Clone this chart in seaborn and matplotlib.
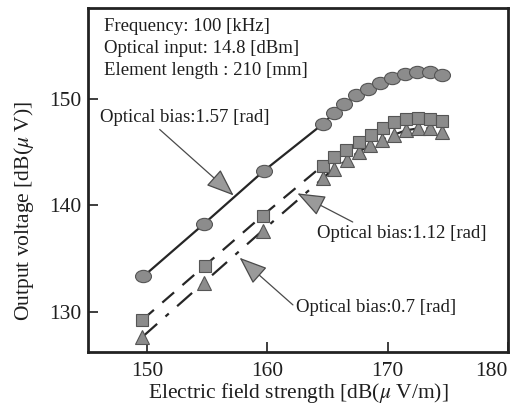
import numpy as np
import pandas as pd
import matplotlib
matplotlib.use("Agg")
import matplotlib.pyplot as plt
from matplotlib.path import Path
from matplotlib.transforms import Affine2D
import seaborn as sns

# ---- data ----
x_157 = [149.7, 154.7, 159.7, 164.6, 165.5, 166.4, 167.4, 168.4, 169.4, 170.4, 171.4, 172.4, 173.5, 174.5]
y_157 = [133.3, 138.2, 143.2, 147.6, 148.6, 149.5, 150.3, 150.9, 151.5, 151.9, 152.3, 152.5, 152.5, 152.2]

x_112 = [149.6, 154.8, 159.6, 164.6, 165.5, 166.5, 167.6, 168.6, 169.6, 170.5, 171.5, 172.5, 173.5, 174.5]
y_112 = [129.2, 134.3, 139.0, 143.7, 144.5, 145.2, 145.9, 146.6, 147.2, 147.8, 148.1, 148.2, 148.1, 147.9]

x_07 = [149.6, 154.7, 159.6, 164.6, 165.5, 166.6, 167.6, 168.5, 169.5, 170.5, 171.5, 172.5, 173.5, 174.5]
y_07 = [127.6, 132.7, 137.6, 142.5, 143.4, 144.2, 145.0, 145.6, 146.1, 146.6, 147.0, 147.2, 147.2, 146.9]

info_lines = ["Frequency: 100 [kHz]", "Optical input: 14.8 [dBm]", "Element length : 210 [mm]"]
bias_labels = ["Optical bias:1.57 [rad]", "Optical bias:1.12 [rad]", "Optical bias:0.7 [rad]"]
x_ticks = [150, 160, 170, 180]
y_ticks = [130, 140, 150]

sns.set_style("ticks")
plt.rcParams["font.family"] = ["Liberation Serif", "DejaVu Serif"]
plt.rcParams["mathtext.fontset"] = "stix"

fig = plt.figure(figsize=(5.19, 4.12), dpi=100)
ax = fig.add_axes([0.1696, 0.1456, 0.8092, 0.835])

ellipse = Path.unit_circle().transformed(Affine2D().scale(1.3, 1.0))
mfc = "#8c8c8c"
mec = "#555555"
lc = "#262626"
tc = "#1e1e1e"

df1 = pd.DataFrame({"x": x_157, "y": y_157})
df2 = pd.DataFrame({"x": x_112, "y": y_112})
df3 = pd.DataFrame({"x": x_07, "y": y_07})

sns.lineplot(data=df3, x="x", y="y", ax=ax, color=lc, lw=1.6,
             linestyle=(0, (9, 5, 2, 5)), marker="^", markersize=10,
             markerfacecolor=mfc, markeredgecolor=mec, markeredgewidth=0.8)
sns.lineplot(data=df2, x="x", y="y", ax=ax, color=lc, lw=1.6,
             linestyle=(0, (7, 5)), marker="s", markersize=8,
             markerfacecolor=mfc, markeredgecolor=mec, markeredgewidth=0.8)
sns.lineplot(data=df1, x="x", y="y", ax=ax, color=lc, lw=1.6,
             linestyle="-", marker=ellipse, markersize=11.5,
             markerfacecolor=mfc, markeredgecolor=mec, markeredgewidth=0.8)

ax.set_xlim(145.1, 180.0)
ax.set_ylim(126.2, 158.5)
ax.set_xticks(x_ticks)
ax.set_yticks(y_ticks)
ax.tick_params(direction="in", length=7, width=1.2, labelsize=15.5, colors=tc)
ax.tick_params(axis="x", pad=7)
ax.tick_params(axis="y", pad=5)
xl = ax.get_xticklabels()
xl[-1].set_horizontalalignment("right")
for s in ax.spines.values():
    s.set_linewidth(2.0)
    s.set_color("#222222")

ax.set_xlabel("Electric field strength [dB($\\mu$ V/m)]", fontsize=15.5, color=tc, labelpad=0)
ax.set_ylabel("Output voltage [dB($\\mu$ V)]", fontsize=15.5, color=tc)
ax.yaxis.set_label_coords(-0.125, 0.41)

for i, t in enumerate(info_lines):
    ax.text(146.4, 156.8 - i * 2.1, t, fontsize=13.5, va="center", ha="left", color=tc)

arrowprops = dict(arrowstyle="-|>,head_length=1.3,head_width=0.5", ec="#4a4a4a", fc="#9a9a9a",
                  lw=0.9, shrinkA=0, shrinkB=0)
ax.annotate(bias_labels[0], xy=(157.2, 140.9), xytext=(146.1, 148.2), fontsize=13.5,
            va="center", ha="left", color=tc,
            arrowprops=dict(arrowprops, relpos=(0.33, 0.0)))
ax.annotate(bias_labels[1], xy=(162.5, 141.1), xytext=(164.1, 137.3), fontsize=13.5,
            va="center", ha="left", color=tc,
            arrowprops=dict(arrowprops, relpos=(0.25, 1.0)))
ax.annotate(bias_labels[2], xy=(157.7, 135.05), xytext=(162.4, 130.35), fontsize=13.5,
            va="center", ha="left", color=tc,
            arrowprops=dict(arrowprops, relpos=(0.0, 0.5)))

fig.savefig("out.png", dpi=100)
